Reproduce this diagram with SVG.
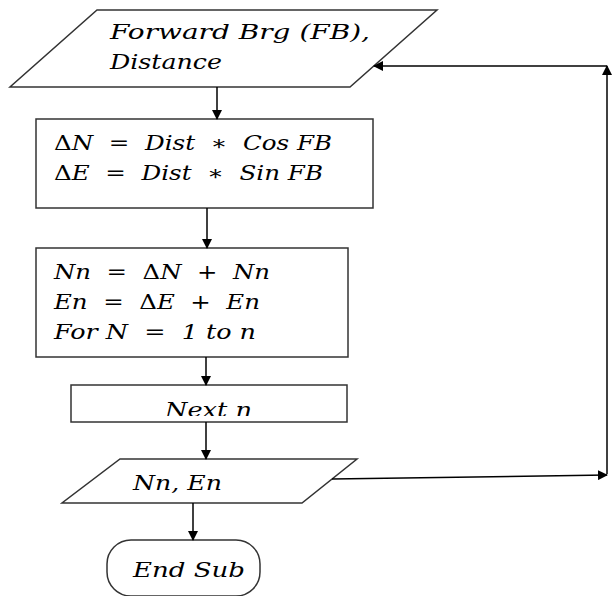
<svg xmlns="http://www.w3.org/2000/svg" width="612" height="596" viewBox="0 0 612 596">
<style>
.shape{fill:#fff;stroke:#333;stroke-width:1.5}
.t{font-family:"DejaVu Serif","Liberation Serif",serif;font-style:italic;font-size:20px;fill:#000;white-space:pre}
.up{font-style:normal}
.c{fill:none;stroke:#000;stroke-width:1.5}
</style>
<defs>
<marker id="ah" markerWidth="10" markerHeight="10" refX="9" refY="5" orient="auto" markerUnits="userSpaceOnUse">
<path d="M0,0 L10,5 L0,10 Z" fill="#000"/>
</marker>
<clipPath id="nclip"><rect x="72" y="386" width="274" height="30"/></clipPath>
</defs>
<rect width="612" height="596" fill="#fff"/>
<g id="input">
<polygon class="shape" points="97,10 437,10 350,87 10,87"/>
<text class="t" x="110" y="39" textLength="260" lengthAdjust="spacingAndGlyphs">Forward Brg (FB),</text>
<text class="t" x="110" y="69" textLength="112" lengthAdjust="spacingAndGlyphs">Distance</text>
</g>
<g id="calc">
<rect class="shape" x="36" y="119" width="337" height="89"/>
<text class="t" x="54" y="150" textLength="278" lengthAdjust="spacingAndGlyphs" xml:space="preserve"><tspan class="up">Δ</tspan>N  =  Dist  ∗  Cos FB</text>
<text class="t" x="54" y="180" textLength="269" lengthAdjust="spacingAndGlyphs" xml:space="preserve"><tspan class="up">Δ</tspan>E  =  Dist  ∗  Sin FB</text>
</g>
<g id="accum">
<rect class="shape" x="36" y="248" width="312" height="109"/>
<text class="t" x="54" y="279" textLength="216" lengthAdjust="spacingAndGlyphs" xml:space="preserve">Nn  =  <tspan class="up">Δ</tspan>N  +  Nn</text>
<text class="t" x="54" y="309" textLength="206" lengthAdjust="spacingAndGlyphs" xml:space="preserve">En  =  <tspan class="up">Δ</tspan>E  +  En</text>
<text class="t" x="54" y="339" textLength="202" lengthAdjust="spacingAndGlyphs" xml:space="preserve">For N  =  1 to n</text>
</g>
<g id="next">
<rect class="shape" x="71" y="385" width="276" height="37"/>
<text class="t" x="165" y="417" textLength="87" lengthAdjust="spacingAndGlyphs" clip-path="url(#nclip)">Next n</text>
</g>
<g id="output">
<polygon class="shape" points="120,459 357,459 302,503 62,503"/>
<text class="t" x="133" y="490" textLength="89" lengthAdjust="spacingAndGlyphs">Nn, En</text>
</g>
<g id="end">
<rect class="shape" x="107" y="540" width="153" height="56" rx="24" ry="24"/>
<text class="t" x="133" y="577" textLength="112" lengthAdjust="spacingAndGlyphs">End Sub</text>
</g>
<g id="connectors">
<line class="c" x1="217" y1="87" x2="217" y2="119" marker-end="url(#ah)"/>
<line class="c" x1="207" y1="208" x2="207" y2="248" marker-end="url(#ah)"/>
<line class="c" x1="206" y1="357" x2="206" y2="385" marker-end="url(#ah)"/>
<line class="c" x1="206" y1="422" x2="206" y2="459" marker-end="url(#ah)"/>
<line class="c" x1="193" y1="503" x2="193" y2="540" marker-end="url(#ah)"/>
<line class="c" x1="332" y1="479" x2="607" y2="475" marker-end="url(#ah)"/>
<line class="c" x1="607" y1="474" x2="607" y2="66" marker-end="url(#ah)"/>
<line class="c" x1="607" y1="66" x2="374" y2="66" marker-end="url(#ah)"/>
</g>
</svg>
